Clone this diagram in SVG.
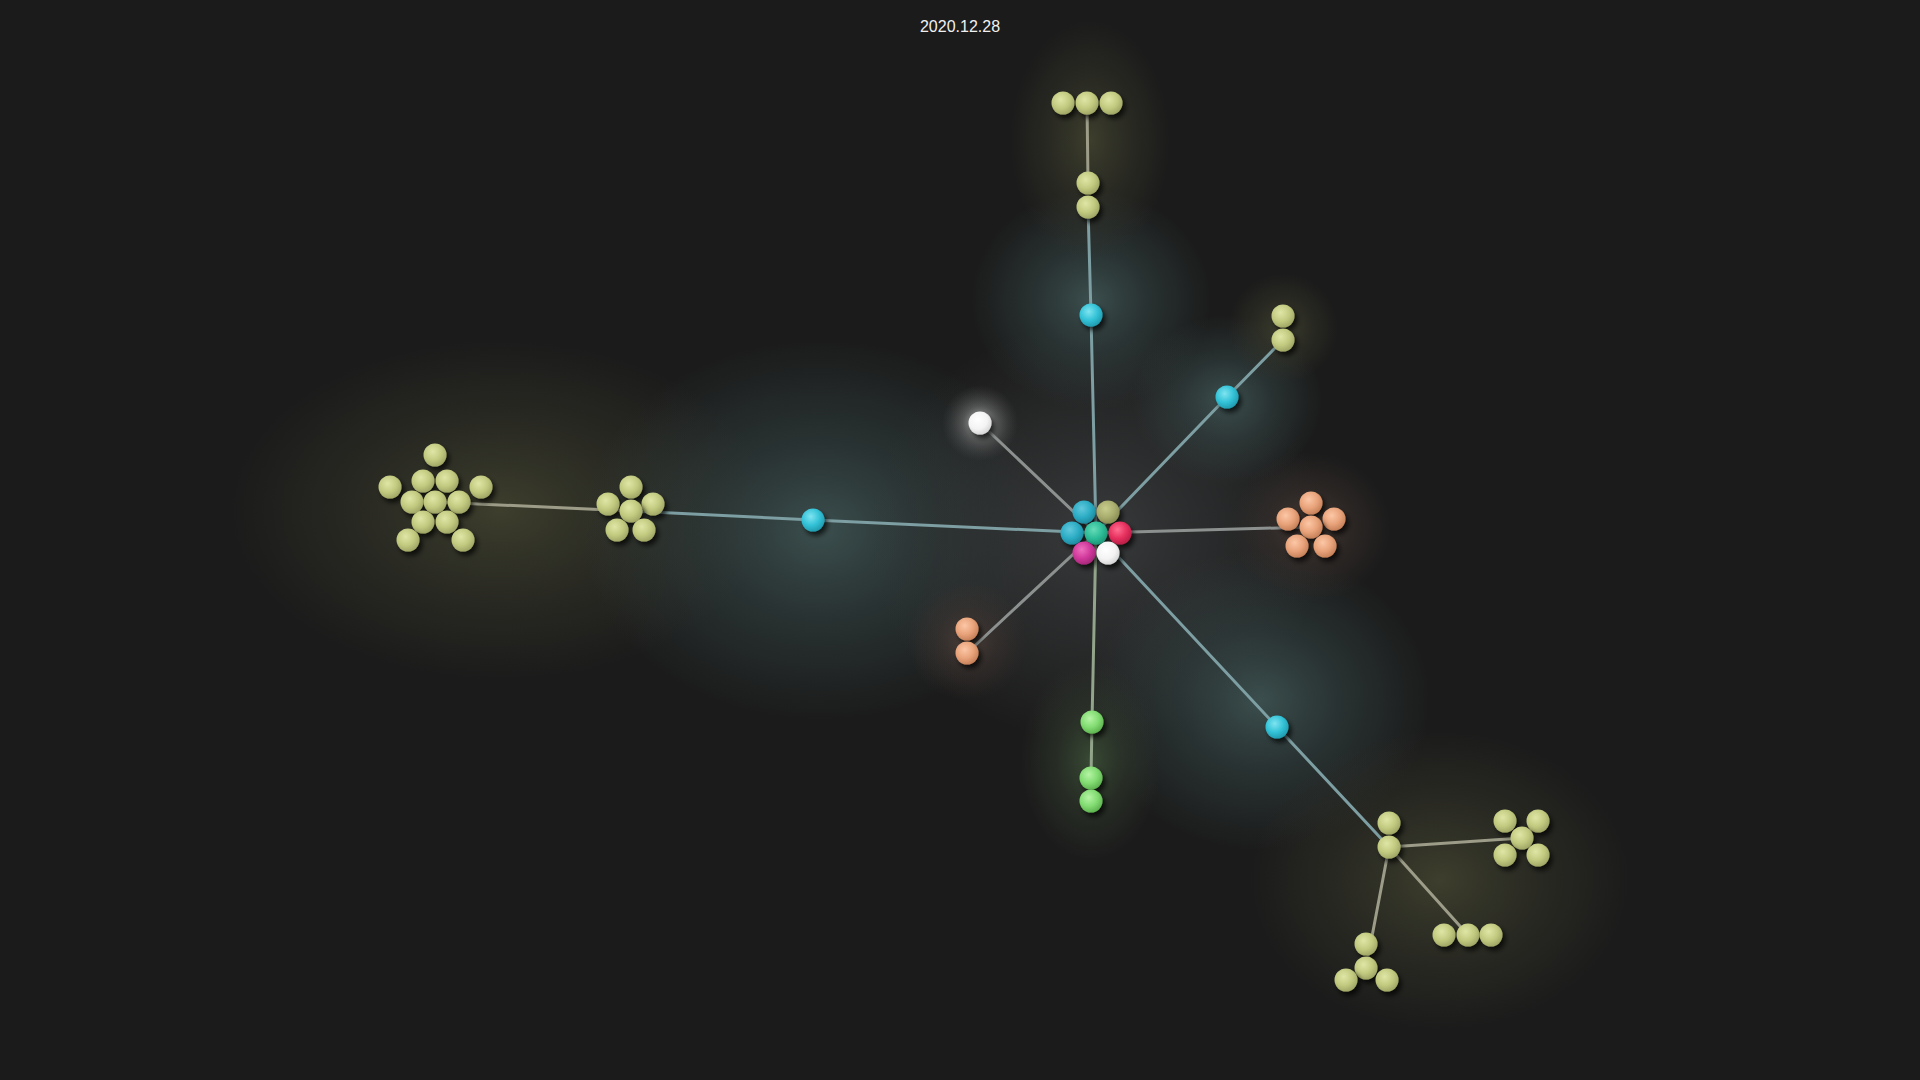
<svg xmlns="http://www.w3.org/2000/svg" width="1920" height="1080" viewBox="0 0 1920 1080">
<defs>
<filter id="shadow" x="-50%" y="-50%" width="200%" height="200%"><feDropShadow dx="3" dy="4" stdDeviation="2.5" flood-color="#000" flood-opacity="0.7"/></filter>
<radialGradient id="hTeal"><stop offset="0" stop-color="#46605f" stop-opacity="0.75"/><stop offset="0.5" stop-color="#3b5050" stop-opacity="0.4"/><stop offset="1" stop-color="#3b5050" stop-opacity="0"/></radialGradient>
<radialGradient id="hOlive"><stop offset="0" stop-color="#464731" stop-opacity="0.8"/><stop offset="0.5" stop-color="#3b3c2c" stop-opacity="0.45"/><stop offset="1" stop-color="#3a3b2c" stop-opacity="0"/></radialGradient>
<radialGradient id="hGray"><stop offset="0" stop-color="#3c3e3f" stop-opacity="0.9"/><stop offset="0.55" stop-color="#353738" stop-opacity="0.5"/><stop offset="1" stop-color="#353738" stop-opacity="0"/></radialGradient>
<radialGradient id="hOrange"><stop offset="0" stop-color="#54433a" stop-opacity="0.8"/><stop offset="0.5" stop-color="#453833" stop-opacity="0.4"/><stop offset="1" stop-color="#453833" stop-opacity="0"/></radialGradient>
<radialGradient id="hGreen"><stop offset="0" stop-color="#425a3d" stop-opacity="0.75"/><stop offset="0.5" stop-color="#384733" stop-opacity="0.4"/><stop offset="1" stop-color="#384733" stop-opacity="0"/></radialGradient>
<radialGradient id="hWhite"><stop offset="0" stop-color="#dddddd" stop-opacity="0.85"/><stop offset="0.45" stop-color="#999999" stop-opacity="0.4"/><stop offset="1" stop-color="#666666" stop-opacity="0"/></radialGradient>
<radialGradient id="gOlive" cx="0.4" cy="0.35" r="0.7"><stop offset="0" stop-color="#dfe6a6"/><stop offset="0.55" stop-color="#c2ca80"/><stop offset="1" stop-color="#9ca262"/></radialGradient>
<radialGradient id="gOliveD" cx="0.4" cy="0.35" r="0.7"><stop offset="0" stop-color="#c8cc8c"/><stop offset="0.55" stop-color="#a9ad6e"/><stop offset="1" stop-color="#868a52"/></radialGradient>
<radialGradient id="gCyan" cx="0.4" cy="0.35" r="0.7"><stop offset="0" stop-color="#7fe4f0"/><stop offset="0.55" stop-color="#33c2d7"/><stop offset="1" stop-color="#1f97ab"/></radialGradient>
<radialGradient id="gTeal" cx="0.4" cy="0.35" r="0.7"><stop offset="0" stop-color="#62c8dc"/><stop offset="0.55" stop-color="#2cadc5"/><stop offset="1" stop-color="#1d879c"/></radialGradient>
<radialGradient id="gMint" cx="0.4" cy="0.35" r="0.7"><stop offset="0" stop-color="#66dcb8"/><stop offset="0.55" stop-color="#2dbd98"/><stop offset="1" stop-color="#1e9474"/></radialGradient>
<radialGradient id="gRed" cx="0.4" cy="0.35" r="0.7"><stop offset="0" stop-color="#ff6e90"/><stop offset="0.55" stop-color="#e6305e"/><stop offset="1" stop-color="#b41d44"/></radialGradient>
<radialGradient id="gMag" cx="0.4" cy="0.35" r="0.7"><stop offset="0" stop-color="#ee70be"/><stop offset="0.55" stop-color="#d1399b"/><stop offset="1" stop-color="#a02776"/></radialGradient>
<radialGradient id="gWhite" cx="0.4" cy="0.35" r="0.7"><stop offset="0" stop-color="#ffffff"/><stop offset="0.6" stop-color="#f3f3f3"/><stop offset="1" stop-color="#d2d2d2"/></radialGradient>
<radialGradient id="gOrange" cx="0.4" cy="0.35" r="0.7"><stop offset="0" stop-color="#fcc7a6"/><stop offset="0.55" stop-color="#e8a37b"/><stop offset="1" stop-color="#c27d56"/></radialGradient>
<radialGradient id="gGreen" cx="0.4" cy="0.35" r="0.7"><stop offset="0" stop-color="#b6f4a6"/><stop offset="0.55" stop-color="#82dc72"/><stop offset="1" stop-color="#5aae4c"/></radialGradient>
</defs>
<style>
circle.n{filter:url(#shadow)}
.olive{fill:url(#gOlive)}
.oliveD{fill:url(#gOliveD)}
.cyan{fill:url(#gCyan)}
.teal{fill:url(#gTeal)}
.mint{fill:url(#gMint)}
.red{fill:url(#gRed)}
.mag{fill:url(#gMag)}
.white{fill:url(#gWhite)}
.orange{fill:url(#gOrange)}
.green{fill:url(#gGreen)}
.hT{fill:url(#hTeal)}
.hO{fill:url(#hOlive)}
.hG{fill:url(#hGray)}
.hOr{fill:url(#hOrange)}
.hGr{fill:url(#hGreen)}
.hW{fill:url(#hWhite)}
.e{fill:none;stroke-width:3;stroke-linecap:round;stroke-linejoin:round}
.eT{stroke:#7d9ea2}
.eG{stroke:#8c9190}
.eO{stroke:#9c9c88}
.eGr{stroke:#92a58a}
text{font-family:"Liberation Sans",Arial,sans-serif;font-size:16px;fill:#f0f0f0}
</style>
<rect width="1920" height="1080" fill="#1b1b1b"/>
<g id="glows">
<ellipse class="hO" cx="500" cy="510" rx="270" ry="170"/>
<ellipse class="hT" cx="820" cy="530" rx="240" ry="190"/>
<ellipse class="hG" cx="1096" cy="533" rx="230" ry="210"/>
<ellipse class="hT" cx="1091" cy="300" rx="120" ry="110"/>
<ellipse class="hO" cx="1090" cy="140" rx="80" ry="120"/>
<ellipse class="hT" cx="1227" cy="400" rx="95" ry="85"/>
<ellipse class="hO" cx="1283" cy="328" rx="55" ry="55"/>
<ellipse class="hT" cx="1260" cy="700" rx="170" ry="150"/>
<ellipse class="hO" cx="1440" cy="880" rx="190" ry="150"/>
<ellipse class="hOr" cx="1311" cy="527" rx="80" ry="75"/>
<ellipse class="hOr" cx="967" cy="641" rx="60" ry="60"/>
<ellipse class="hGr" cx="1091" cy="760" rx="70" ry="100"/>
<circle class="hW" cx="980" cy="423" r="38"/>
</g>
<g id="connectors">
<polyline class="e eT" points="1096,533 1091,315 1088,207"/>
<line class="e eO" x1="1088" y1="183" x2="1087" y2="103"/>
<polyline class="e eT" points="1096,533 1227,397 1283,340"/>
<line class="e eG" x1="1096" y1="533" x2="980" y2="423"/>
<polyline class="e eT" points="1096,533 813,520 631,511"/>
<line class="e eO" x1="631" y1="511" x2="435" y2="502"/>
<line class="e eG" x1="1096" y1="533" x2="1311" y2="527"/>
<line class="e eG" x1="1096" y1="533" x2="967" y2="653"/>
<polyline class="e eGr" points="1096,533 1092,722 1091,778"/>
<polyline class="e eT" points="1096,533 1277,727 1389,847"/>
<line class="e eO" x1="1389" y1="847" x2="1522" y2="838"/>
<line class="e eO" x1="1389" y1="847" x2="1468" y2="935"/>
<line class="e eO" x1="1389" y1="847" x2="1366" y2="968"/>
</g>
<g id="center-cluster">
<circle class="n teal" cx="1084" cy="512" r="11.5"/>
<circle class="n oliveD" cx="1108" cy="512" r="11.5"/>
<circle class="n teal" cx="1072" cy="533" r="11.5"/>
<circle class="n mint" cx="1096" cy="533" r="11.5"/>
<circle class="n red" cx="1120" cy="533" r="11.5"/>
<circle class="n mag" cx="1084" cy="553" r="11.5"/>
<circle class="n white" cx="1108" cy="553" r="11.5"/>
</g>
<g id="node-white"><circle class="n white" cx="980" cy="423" r="11.5"/></g>
<g id="node-cyan-top"><circle class="n cyan" cx="1091" cy="315" r="11.5"/></g>
<g id="node-cyan-right"><circle class="n cyan" cx="1227" cy="397" r="11.5"/></g>
<g id="node-cyan-left"><circle class="n cyan" cx="813" cy="520" r="11.5"/></g>
<g id="node-cyan-bottom"><circle class="n cyan" cx="1277" cy="727" r="11.5"/></g>
<g id="olive-top-pair">
<circle class="n olive" cx="1088" cy="183" r="11.5"/>
<circle class="n olive" cx="1088" cy="207" r="11.5"/>
</g>
<g id="olive-top-row">
<circle class="n olive" cx="1063" cy="103" r="11.5"/>
<circle class="n olive" cx="1087" cy="103" r="11.5"/>
<circle class="n olive" cx="1111" cy="103" r="11.5"/>
</g>
<g id="olive-right-pair">
<circle class="n olive" cx="1283" cy="316" r="11.5"/>
<circle class="n olive" cx="1283" cy="340" r="11.5"/>
</g>
<g id="olive-left-flower">
<circle class="n olive" cx="631" cy="487" r="11.5"/>
<circle class="n olive" cx="608" cy="504" r="11.5"/>
<circle class="n olive" cx="653" cy="504" r="11.5"/>
<circle class="n olive" cx="631" cy="511" r="11.5"/>
<circle class="n olive" cx="617" cy="530" r="11.5"/>
<circle class="n olive" cx="644" cy="530" r="11.5"/>
</g>
<g id="olive-left-star">
<circle class="n olive" cx="435" cy="455" r="11.5"/>
<circle class="n olive" cx="423" cy="481" r="11.5"/>
<circle class="n olive" cx="447" cy="481" r="11.5"/>
<circle class="n olive" cx="390" cy="487" r="11.5"/>
<circle class="n olive" cx="481" cy="487" r="11.5"/>
<circle class="n olive" cx="412" cy="502" r="11.5"/>
<circle class="n olive" cx="435" cy="502" r="11.5"/>
<circle class="n olive" cx="459" cy="502" r="11.5"/>
<circle class="n olive" cx="423" cy="522" r="11.5"/>
<circle class="n olive" cx="447" cy="522" r="11.5"/>
<circle class="n olive" cx="408" cy="540" r="11.5"/>
<circle class="n olive" cx="463" cy="540" r="11.5"/>
</g>
<g id="orange-cluster">
<circle class="n orange" cx="1311" cy="503" r="11.5"/>
<circle class="n orange" cx="1288" cy="519" r="11.5"/>
<circle class="n orange" cx="1334" cy="519" r="11.5"/>
<circle class="n orange" cx="1311" cy="527" r="11.5"/>
<circle class="n orange" cx="1297" cy="546" r="11.5"/>
<circle class="n orange" cx="1325" cy="546" r="11.5"/>
</g>
<g id="orange-pair">
<circle class="n orange" cx="967" cy="629" r="11.5"/>
<circle class="n orange" cx="967" cy="653" r="11.5"/>
</g>
<g id="green-single"><circle class="n green" cx="1092" cy="722" r="11.5"/></g>
<g id="green-pair">
<circle class="n green" cx="1091" cy="778" r="11.5"/>
<circle class="n green" cx="1091" cy="801" r="11.5"/>
</g>
<g id="olive-hub">
<circle class="n olive" cx="1389" cy="823" r="11.5"/>
<circle class="n olive" cx="1389" cy="847" r="11.5"/>
</g>
<g id="olive-br-x">
<circle class="n olive" cx="1505" cy="821" r="11.5"/>
<circle class="n olive" cx="1538" cy="821" r="11.5"/>
<circle class="n olive" cx="1522" cy="838" r="11.5"/>
<circle class="n olive" cx="1505" cy="855" r="11.5"/>
<circle class="n olive" cx="1538" cy="855" r="11.5"/>
</g>
<g id="olive-br-row">
<circle class="n olive" cx="1444" cy="935" r="11.5"/>
<circle class="n olive" cx="1468" cy="935" r="11.5"/>
<circle class="n olive" cx="1491" cy="935" r="11.5"/>
</g>
<g id="olive-br-tri">
<circle class="n olive" cx="1366" cy="944" r="11.5"/>
<circle class="n olive" cx="1366" cy="968" r="11.5"/>
<circle class="n olive" cx="1346" cy="980" r="11.5"/>
<circle class="n olive" cx="1387" cy="980" r="11.5"/>
</g>
<text x="960" y="32" text-anchor="middle">2020.12.28</text>
</svg>
